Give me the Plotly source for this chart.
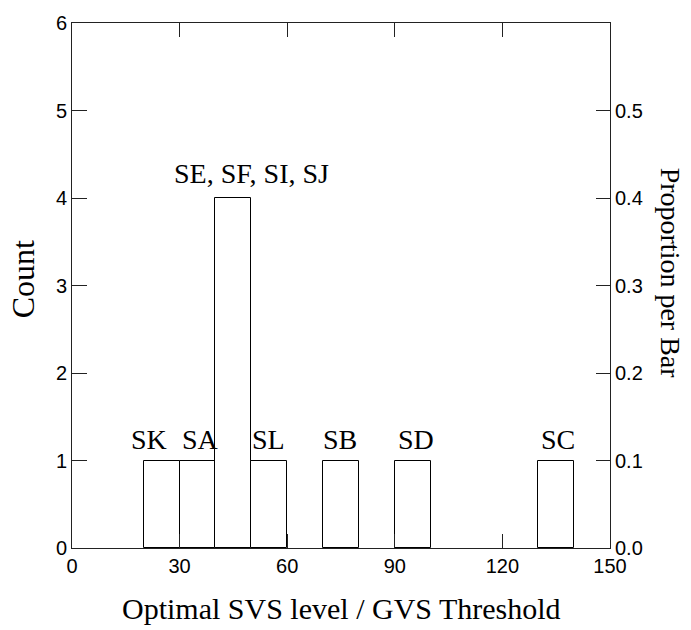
import plotly.graph_objects as go

# Data
bin_start = [20, 30, 40, 50, 70, 90, 130]
bin_width = 10
counts = [1, 1, 4, 1, 1, 1, 1]
labels = ["SK", "SA", "SE, SF, SI, SJ", "SL", "SB", "SD", "SC"]
label_x = [21.6, 35.8, 50.0, 54.9, 74.7, 96.0, 135.6]
label_y = [1.24, 1.24, 4.28, 1.24, 1.24, 1.24, 1.24]
total = sum(counts)
proportion = [c / total for c in counts]

x_ticks = [0, 30, 60, 90, 120, 150]
count_ticks = [0, 1, 2, 3, 4, 5, 6]
prop_ticks = [0.0, 0.1, 0.2, 0.3, 0.4, 0.5]

serif = "Liberation Serif, Times New Roman, serif"
sans = "Liberation Sans, Arial, sans-serif"
axis_col = "#222222"

fig = go.Figure()
fig.add_trace(go.Bar(
    x=bin_start, y=counts, width=bin_width, offset=0,
    marker=dict(color="white", line=dict(color="black", width=1)),
    hoverinfo="skip", showlegend=False,
))
fig.add_trace(go.Scatter(
    x=[b + bin_width / 2 for b in bin_start], y=proportion, yaxis="y2",
    mode="markers", marker=dict(opacity=0), hoverinfo="skip", showlegend=False,
))

for t, lx, ly in zip(labels, label_x, label_y):
    fig.add_annotation(x=lx, y=ly, text=t, showarrow=False,
                       xanchor="center", yanchor="middle",
                       font=dict(family=serif, size=28, color="black"))

fig.add_annotation(x=-0.091, y=0.512, xref="paper", yref="paper", text="Count",
                   showarrow=False, textangle=-90, xanchor="center", yanchor="middle",
                   font=dict(family=serif, size=32, color="black"))
fig.add_annotation(x=1.113, y=0.523, xref="paper", yref="paper", text="Proportion per Bar",
                   showarrow=False, textangle=90, xanchor="center", yanchor="middle",
                   font=dict(family=serif, size=28, color="black"))
fig.add_annotation(x=0.5, y=-0.115, xref="paper", yref="paper",
                   text="Optimal SVS level / GVS Threshold",
                   showarrow=False, xanchor="center", yanchor="middle",
                   font=dict(family=serif, size=30, color="black"))

fig.update_layout(
    width=691, height=630,
    margin=dict(l=72, r=81, t=17, b=82),
    paper_bgcolor="white", plot_bgcolor="white",
    bargap=0,
    xaxis=dict(range=[0, 150], tickvals=x_ticks, ticks="inside", ticklen=14,
               tickcolor=axis_col, showline=True, linecolor=axis_col, linewidth=1,
               mirror="ticks", showgrid=False, zeroline=False,
               tickfont=dict(family=sans, size=20, color="black")),
    yaxis=dict(range=[0, 6], tickvals=count_ticks, ticks="inside", ticklen=15,
               tickcolor=axis_col, showline=True, linecolor=axis_col, linewidth=1,
               showgrid=False, zeroline=False,
               tickfont=dict(family=sans, size=20, color="black")),
    yaxis2=dict(range=[0, 0.6], tickvals=prop_ticks, tickformat=".1f",
                overlaying="y", side="right", ticks="inside", ticklen=14,
                tickcolor=axis_col, showline=True, linecolor=axis_col, linewidth=1,
                showgrid=False, zeroline=False,
                tickfont=dict(family=sans, size=20, color="black")),
)

fig.write_html("out.html")
